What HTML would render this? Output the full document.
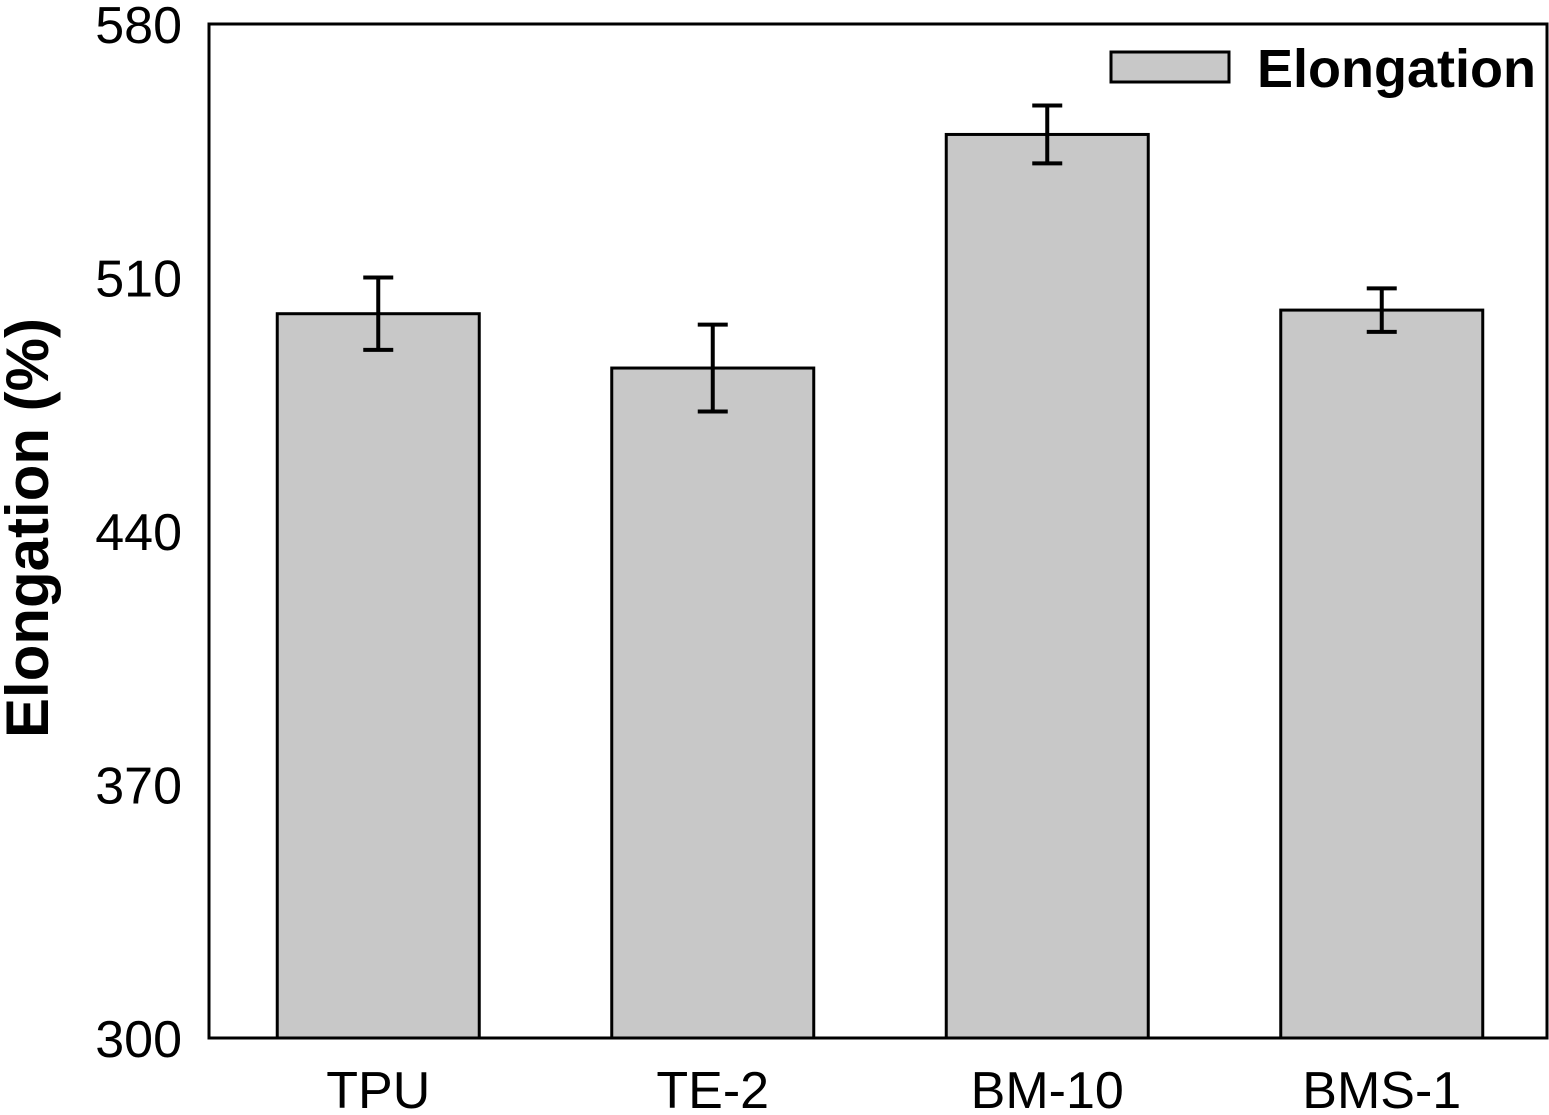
<!DOCTYPE html>
<html><head><meta charset="utf-8"><style>
html,body{margin:0;padding:0;background:#fff;}
svg{display:block;font-family:"Liberation Sans",Arial,sans-serif;}
</style></head><body>
<svg id="chart" width="1549" height="1115" viewBox="0 0 1549 1115"></svg>
<script>
const categories = ["TPU","TE-2","BM-10","BMS-1"];
const values = [500, 485, 549.5, 501];
const errors = [10, 12, 8, 6];
const yTicks = [300, 370, 440, 510, 580];

const NS="http://www.w3.org/2000/svg";
const svg=document.getElementById('chart');
const L=209,R=1547,T=24,B=1038,yMin=300,yMax=580;
const y=v=>B-(v-yMin)/(yMax-yMin)*(B-T);
const band=(R-L)/categories.length;
const xc=i=>L+2+band*(i+0.5);
const bw=202;
function mk(tag,attrs,parent){const e=document.createElementNS(NS,tag);for(const k in attrs)e.setAttribute(k,attrs[k]);(parent||svg).appendChild(e);return e;}

categories.forEach((c,i)=>{
  const g=mk('g',{});
  
  
  mk('rect',{x:xc(i)-bw/2,y:y(values[i]),width:bw,height:B-y(values[i]),fill:'#c8c8c8',stroke:'#000','stroke-width':3},g);
  const e=mk('g',{stroke:'#000','stroke-width':4},g);
  
  
  const top=y(values[i]+errors[i]),bot=y(values[i]-errors[i]);
  mk('line',{x1:xc(i),x2:xc(i),y1:top,y2:bot},e);
  mk('line',{x1:xc(i)-15,x2:xc(i)+15,y1:top,y2:top},e);
  mk('line',{x1:xc(i)-15,x2:xc(i)+15,y1:bot,y2:bot},e);
  const t=mk('text',{x:xc(i),y:1108,'text-anchor':'middle','font-size':52,fill:'#000'});
  t.textContent=c;
  
  
});

yTicks.forEach(v=>{
  const t=mk('text',{x:182,y:y(v)+19,'text-anchor':'end','font-size':52,fill:'#000'});
  t.textContent=v;
  
  
});

const frame=mk('rect',{x:L,y:T,width:R-L,height:B-T,fill:'none',stroke:'#000','stroke-width':3});



const yt=mk('text',{x:0,y:0,transform:'translate(48,528) rotate(-90)','text-anchor':'middle','font-size':60,'font-weight':'bold',fill:'#000'});
yt.textContent='Elongation (%)';



const lg=mk('g',{});


mk('rect',{x:1111,y:52,width:118,height:30,fill:'#c8c8c8',stroke:'#000','stroke-width':3},lg);
const lt=mk('text',{x:1257,y:87,'font-size':54,'font-weight':'bold',fill:'#000'},lg);
lt.textContent='Elongation';
</script>
</body></html>
